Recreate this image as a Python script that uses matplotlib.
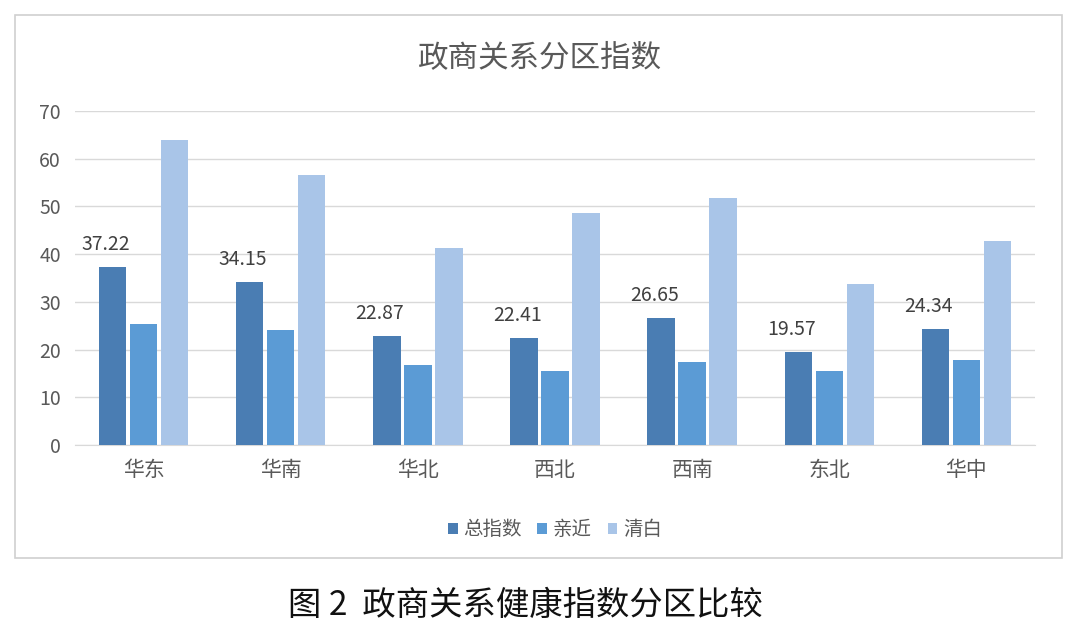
import matplotlib
matplotlib.use("Agg")
import matplotlib.pyplot as plt
from matplotlib.patches import Rectangle
import numpy as np

plt.rcParams['font.family'] = ['Noto Sans CJK SC', 'DejaVu Sans']

categories = ["华东", "华南", "华北", "西北", "西南", "东北", "华中"]
total = [37.22, 34.15, 22.87, 22.41, 26.65, 19.57, 24.34]
close = [25.3, 24.2, 16.8, 15.6, 17.3, 15.6, 17.8]
clean = [64.0, 56.5, 41.2, 48.6, 51.8, 33.8, 42.8]
series_names = ["总指数", "亲近", "清白"]
colors = ["#4a7db3", "#5b9bd5", "#a9c5e8"]

W, H = 1080, 643
fig = plt.figure(figsize=(W/100, H/100), dpi=100)
fig.patches.append(Rectangle((15/W, 1-558/H), 1047/W, 543/H, transform=fig.transFigure,
                             fill=False, edgecolor="#d0d0d0", lw=1.2))
ax = fig.add_axes([75/W, 1-445/H, 960/W, 334/H])
x = np.arange(len(categories))
w = 0.2
off = 0.226
for i, (vals, name, c) in enumerate(zip([total, close, clean], series_names, colors)):
    ax.bar(x + (i-1)*off, vals, w, color=c, label=name, zorder=3)
for xi, v in zip(x, total):
    ax.text(xi - off - 0.05, v + 2.5, f"{v:.2f}", ha="center", va="bottom", fontsize=14, color="#404040")
ax.set_ylim(0, 70)
ax.set_xlim(-0.5, len(categories)-0.5)
ax.set_yticks(range(0, 71, 10))
ax.grid(axis="y", color="#d9d9d9", lw=1, zorder=0)
for s in ["top", "right", "left"]:
    ax.spines[s].set_visible(False)
ax.spines["bottom"].set_color("#d9d9d9")
ax.tick_params(axis="both", length=0, labelsize=14, colors="#595959", pad=10)
ax.set_xticks(x)
ax.set_xticklabels(categories, fontsize=15)
fig.text(540/W, 1-58/H, "政商关系分区指数", ha="center", va="center", fontsize=22, color="#595959")
ax.legend(loc="upper center", bbox_to_anchor=(0.5, -0.17), ncol=3, frameon=False,
          fontsize=14, handlelength=0.5, handleheight=0.5, columnspacing=0.8, handletextpad=0.3,
          labelcolor="#595959")
fig.text(525/W, 1-605/H, "图 2  政商关系健康指数分区比较", ha="center", va="center", fontsize=24, color="#111111")
fig.savefig("out.png", dpi=100)
